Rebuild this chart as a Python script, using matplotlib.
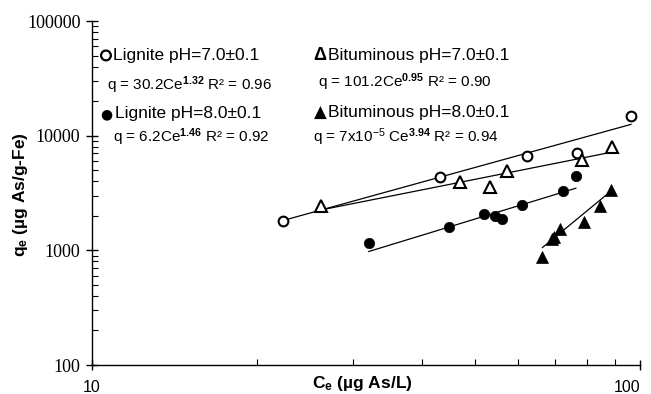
import numpy as np
import matplotlib
matplotlib.use('Agg')
import matplotlib.pyplot as plt
import matplotlib.patheffects as pe
from matplotlib.ticker import LogLocator, NullFormatter, FixedLocator, FixedFormatter

plt.rcParams['font.family'] = ['Liberation Sans', 'DejaVu Sans']
plt.rcParams['mathtext.fontset'] = 'custom'
plt.rcParams['mathtext.rm'] = 'Liberation Sans'
plt.rcParams['mathtext.it'] = 'Liberation Sans'
plt.rcParams['mathtext.bf'] = 'Liberation Sans:bold'

# Lignite pH=7.0
lig7_ce = [22.3, 43.2, 62.3, 76.9, 96.3]
lig7_q = [1790, 4340, 6700, 7020, 14930]
# Bituminous pH=7.0
bit7_ce = [26.2, 47.0, 53.2, 57.3, 78.3, 89.1]
bit7_q = [2460, 3930, 3550, 4890, 6150, 7910]
# Lignite pH=8.0
lig8_ce = [32.0, 44.8, 51.9, 54.5, 56.1, 61.0, 72.5, 76.4]
lig8_q = [1160, 1590, 2080, 1975, 1890, 2500, 3320, 4490]
# Bituminous pH=8.0
bit8_ce = [66.4, 69.0, 69.6, 71.5, 78.9, 84.5, 88.5]
bit8_q = [874, 1264, 1305, 1544, 1762, 2413, 3372]

# Freundlich fits q = K * Ce^n
fits = {
    'lig7': (30.2, 1.32),
    'bit7': (101.2, 0.95),
    'lig8': (6.2, 1.46),
    'bit8': (7e-5, 3.94),
}

fig = plt.figure(figsize=(6.51, 3.94), dpi=100)
ax = fig.add_axes([0.1413, 0.0736, 0.8417, 0.8731])

series = [
    (lig7_ce, lig7_q, 'lig7', dict(marker='o', ms=7, mfc='white', mec='black', mew=1.5)),
    (bit7_ce, bit7_q, 'bit7', dict(marker='^', ms=9, mfc='white', mec='black', mew=1.5)),
    (lig8_ce, lig8_q, 'lig8', dict(marker='o', ms=7.5, mfc='black', mec='black', mew=0.5)),
    (bit8_ce, bit8_q, 'bit8', dict(marker='^', ms=9, mfc='black', mec='black', mew=0.5)),
]
for ce, q, key, st in series:
    k, n = fits[key]
    xx = np.linspace(min(ce), max(ce), 50)
    ax.plot(xx, k * xx ** n, color='black', lw=0.9, zorder=2)
    ax.plot(ce, q, ls='none', zorder=3, **st)

ax.set_xscale('log')
ax.set_yscale('log')
ax.set_xlim(10, 100)
ax.set_ylim(100, 100000)

for s in ['top', 'right']:
    ax.spines[s].set_visible(False)
for s in ['left', 'bottom']:
    ax.spines[s].set_linewidth(1.0)

ax.yaxis.set_major_locator(FixedLocator([100, 1000, 10000, 100000]))
ax.yaxis.set_major_formatter(FixedFormatter(['100', '1000', '10000', '100000']))
ax.yaxis.set_minor_locator(LogLocator(base=10, subs=np.arange(2, 10)))
ax.yaxis.set_minor_formatter(NullFormatter())
ax.xaxis.set_major_locator(FixedLocator([10, 100]))
ax.xaxis.set_major_formatter(FixedFormatter(['10', '100']))
ax.xaxis.set_minor_locator(LogLocator(base=10, subs=np.arange(2, 10)))
ax.xaxis.set_minor_formatter(NullFormatter())

ax.tick_params(axis='y', which='major', direction='inout', length=8, width=1, pad=4.3)
ax.tick_params(axis='y', which='minor', direction='in', length=4, width=0.8)
ax.tick_params(axis='x', which='major', direction='inout', length=7, width=1, pad=7)
ax.tick_params(axis='x', which='minor', direction='in', length=4, width=0.8)
for lbl in ax.get_yticklabels():
    lbl.set_fontfamily('Liberation Serif')
    lbl.set_fontsize(13)
xlbls = ax.get_xticklabels()
for lbl in xlbls:
    lbl.set_fontsize(11.5)
xlbls[-1].set_horizontalalignment('right')

ax.set_xlabel('C$_\\mathbf{e}$ (µg As/L)', fontsize=12.5, fontweight='bold')
ax.xaxis.set_label_coords(0.4927, -0.055)
ax.xaxis.label.set_va('center')
ax.set_ylabel('q$_\\mathbf{e}$ (µg As/g-Fe)', fontsize=12.5, fontweight='bold')
ax.yaxis.set_label_coords(-0.131, 0.494)
ax.yaxis.label.set_va('center')

# legend-like annotations
fs = 12.5
fq = 11
tr = ax.transAxes
thick = [pe.withStroke(linewidth=1.0, foreground='black')]
ax.text(0.0255, 0.901, '\u25cb', transform=tr, fontsize=10,
        family=['DejaVu Sans'], ha='center', va='center', path_effects=thick)
ax.text(0.0378, 0.901, 'Lignite pH=7.0\u00b10.1', transform=tr, fontsize=fs, va='center')
ax.text(0.027, 0.814, 'q = 30.2Ce$^{\\mathbf{1.32}}$ R\u00b2 = 0.96', transform=tr, fontsize=fq, va='center')
ax.text(0.0268, 0.730, '\u25cf', transform=tr, fontsize=10,
        family=['DejaVu Sans'], ha='center', va='center')
ax.text(0.042, 0.730, 'Lignite pH=8.0\u00b10.1', transform=tr, fontsize=fs, va='center')
ax.text(0.038, 0.663, 'q = 6.2Ce$^{\\mathbf{1.46}}$ R\u00b2 = 0.92', transform=tr, fontsize=fq, va='center')
ax.text(0.416, 0.901, '\u0394', transform=tr, fontsize=13, fontweight='bold',
        ha='center', va='center')
ax.text(0.431, 0.901, 'Bituminous pH=7.0\u00b10.1', transform=tr, fontsize=fs, va='center')
ax.text(0.412, 0.823, 'q = 101.2Ce$^{\\mathbf{0.95}}$ R\u00b2 = 0.90', transform=tr, fontsize=fq, va='center')
ax.text(0.4166, 0.733, '\u25b2', transform=tr, fontsize=12,
        family=['DejaVu Sans'], ha='center', va='center')
ax.text(0.4307, 0.733, 'Bituminous pH=8.0\u00b10.1', transform=tr, fontsize=fs, va='center')
ax.text(0.403, 0.663, 'q = 7x10$^{-5}$ Ce$^{\\mathbf{3.94}}$ R\u00b2 = 0.94', transform=tr, fontsize=fq, va='center')

fig.savefig('out.png', dpi=100)
